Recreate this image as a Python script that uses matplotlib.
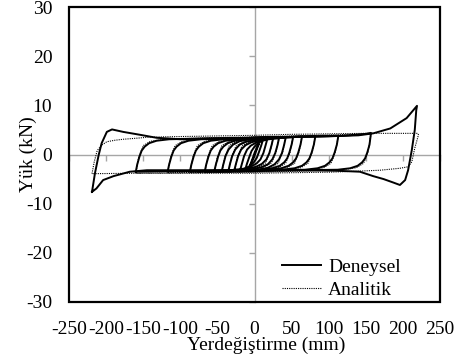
"""
plot.py

Hysteresis comparison: measured (Deneysel) vs model (Analitik) load-displacement
loops. Excel-like look: black frame, grey zero axes with their own tick marks,
tick labels sitting outside the frame.
"""

import matplotlib
matplotlib.use("Agg")
import matplotlib.pyplot as plt
from matplotlib.patches import Rectangle

plt.rcParams['font.family'] = ['Liberation Serif', 'DejaVu Serif']
plt.rcParams['axes.unicode_minus'] = False

# --- data (mm, kN) ----------------------------------------------------------

x_ticks = [-250, -200, -150, -100, -50, 0, 50, 100, 150, 200, 250]
y_ticks = [-30, -20, -10, 0, 10, 20, 30]

# Deneysel: outer cycle
den1_x = [-219, -215, -210, -206, -199, -192, -177, -154, -132, -100, -60, -20, 20, 60,
          100, 140, 160, 183, 205, 219, 218, 216, 212, 207, 203, 196, 187, 174, 160, 142,
          110, 60, 0, -60, -110, -145, -168, -190, -204, -213, -219]
den1_y = [-7.6, -3.8, -0.1, 2.3, 4.6, 5.1, 4.6, 4.0, 3.4, 3.1, 3.2, 3.3, 3.5, 3.6,
          3.7, 3.9, 4.3, 5.3, 7.4, 9.9, 9.0, 5.0, 0.9, -3.2, -5.2, -6.2, -5.7, -5.0, -4.4, -3.5,
          -3.3, -3.2, -3.2, -3.2, -3.2, -3.2, -3.5, -4.4, -5.2, -6.9, -7.6]

# Deneysel: inner cycles, largest to smallest
den2_x = [-160, -158, -155, -152, -148, -142, -132, -115, -60, 0, 60, 120, 150, 157,
          155, 152, 149, 145, 139, 129, 112, 60, 0, -60, -120, -160]
den2_y = [-3.5, -2.0, -0.4, 0.8, 1.6, 2.3, 2.8, 3.1, 3.3, 3.4, 3.6, 3.8, 4.2, 4.4,
          2.0, 0.4, -0.8, -1.6, -2.3, -2.8, -3.1, -3.2, -3.3, -3.3, -3.4, -3.5]

den3_x = [-117, -115, -112, -109, -105, -99, -89, -72, 0, 60, 113,
          111, 108, 105, 101, 95, 85, 68, 0, -60, -117]
den3_y = [-3.4, -2.0, -0.4, 0.8, 1.6, 2.3, 2.8, 3.1, 3.4, 3.6, 3.8,
          2.0, 0.4, -0.8, -1.6, -2.3, -2.8, -3.1, -3.3, -3.3, -3.4]

den4_x = [-87, -85, -82, -79, -75, -69, -59, -42, 0, 82, 80, 77, 74, 70, 64, 54, 37, 0, -87]
den4_y = [-3.4, -2.0, -0.4, 0.8, 1.6, 2.3, 2.8, 3.1, 3.4, 3.7,
          2.0, 0.4, -0.8, -1.6, -2.3, -2.8, -3.1, -3.3, -3.4]

den5_x = [-67, -65, -62, -59, -55, -49, -39, -22, 0, 64, 62, 59, 56, 52, 46, 36, 19, 0, -67]
den5_y = [-3.4, -2.0, -0.4, 0.8, 1.6, 2.3, 2.8, 3.1, 3.3, 3.6,
          2.0, 0.4, -0.8, -1.6, -2.3, -2.8, -3.1, -3.2, -3.4]

den6_x = [-54, -52, -49, -46, -42, -36, -26, -9, 52, 50, 47, 44, 40, 34, 24, 7, -54]
den6_y = [-3.3, -2.0, -0.4, 0.8, 1.6, 2.3, 2.8, 3.1, 3.5, 2.0, 0.4, -0.8, -1.6, -2.3, -2.8, -3.1, -3.3]

den7_x = [-44, -42, -39, -35, -29, -20, -7, 42, 40, 37, 33, 27, 18, 5, -44]
den7_y = [-3.3, -2.0, -0.3, 1.0, 2.0, 2.7, 3.1, 3.4, 2.0, 0.3, -1.0, -2.0, -2.7, -3.1, -3.3]

den8_x = [-35, -33, -30, -26, -20, -11, 2, 33, 31, 28, 24, 18, 9, -4, -35]
den8_y = [-3.2, -1.9, -0.3, 1.0, 2.0, 2.6, 3.0, 3.3, 1.9, 0.3, -1.0, -2.0, -2.6, -3.0, -3.2]

den9_x = [-27, -25, -22, -18, -12, -4, 8, 25, 23, 20, 16, 10, 2, -10, -27]
den9_y = [-3.1, -1.9, -0.3, 1.0, 1.9, 2.5, 2.9, 3.2, 1.9, 0.3, -1.0, -1.9, -2.5, -2.9, -3.1]

den10_x = [-19, -17, -14, -10, -5, 2, 10, 17, 15, 12, 8, 3, -4, -12, -19]
den10_y = [-3.0, -1.9, -0.3, 1.0, 1.8, 2.4, 2.8, 3.0, 1.9, 0.3, -1.0, -1.8, -2.4, -2.8, -3.0]

den11_x = [-12, -10, -7, -4, 0, 4, 8, 11, 9, 6, 3, -1, -5, -9, -12]
den11_y = [-2.8, -1.8, -0.5, 0.7, 1.6, 2.2, 2.6, 2.8, 1.8, 0.5, -0.7, -1.6, -2.2, -2.6, -2.8]

den12_x = [-6, -4, -2, 0, 2, 4, 6, 4, 2, 0, -2, -4, -6]
den12_y = [-2.2, -1.4, -0.6, 0.3, 1.0, 1.7, 2.2, 1.4, 0.6, -0.3, -1.0, -1.7, -2.2]

# Analitik: outer cycle
ana1_x = [-219, -216, -212, -206, -199, -188, -177, -160, -145, -120, -80, -40, 0, 50,
          100, 150, 220, 221, 216, 212, 207, 196, 169, 138, 100, 50, 0, -50, -100, -150, -219]
ana1_y = [-3.9, -1.5, 0.8, 1.9, 2.6, 2.9, 3.1, 3.3, 3.5, 3.6, 3.7, 3.8, 3.9, 4.1,
          4.2, 4.3, 4.3, 4.0, 1.3, -1.5, -2.5, -2.8, -3.2, -3.4, -3.6, -3.7, -3.8, -3.8, -3.8, -3.8, -3.9]

# Analitik: inner cycles
ana2_x = [-160, -156, -150, -140, -120, -60, 0, 80, 157, 153, 147, 137, 117, 60, 0, -80, -160]
ana2_y = [-3.8, -0.5, 1.8, 2.7, 3.1, 3.4, 3.6, 3.9, 4.2, 0.5, -1.8, -2.7, -3.1, -3.4, -3.6, -3.7, -3.8]

ana3_x = [-117, -113, -107, -97, -77, 0, 113, 109, 103, 93, 73, 0, -117]
ana3_y = [-3.7, -0.5, 1.8, 2.7, 3.1, 3.5, 3.8, 0.5, -1.8, -2.7, -3.1, -3.5, -3.7]

ana4_x = [-87, -83, -77, -67, -47, 0, 82, 78, 72, 62, 42, 0, -87]
ana4_y = [-3.7, -0.5, 1.8, 2.7, 3.1, 3.5, 3.8, 0.5, -1.8, -2.7, -3.1, -3.5, -3.7]

ana5_x = [-67, -63, -57, -47, -27, 0, 64, 60, 54, 44, 24, 0, -67]
ana5_y = [-3.7, -0.5, 1.8, 2.7, 3.1, 3.4, 3.7, 0.5, -1.8, -2.7, -3.1, -3.4, -3.7]

ana6_x = [-54, -50, -44, -34, -14, 52, 48, 42, 32, 12, -54]
ana6_y = [-3.6, -0.5, 1.8, 2.7, 3.1, 3.6, 0.5, -1.8, -2.7, -3.1, -3.6]

ana7_x = [-44, -40, -34, -24, -4, 42, 38, 32, 22, 2, -44]
ana7_y = [-3.6, -0.5, 1.8, 2.7, 3.1, 3.6, 0.5, -1.8, -2.7, -3.1, -3.6]

ana8_x = [-35, -31, -25, -15, 5, 33, 29, 23, 13, -7, -35]
ana8_y = [-3.5, -0.5, 1.7, 2.6, 3.1, 3.4, 0.5, -1.7, -2.6, -3.1, -3.5]

ana9_x = [-27, -23, -17, -7, 13, 25, 21, 15, 5, -15, -27]
ana9_y = [-3.4, -0.5, 1.7, 2.6, 3.1, 3.3, 0.5, -1.7, -2.6, -3.1, -3.4]

den_loops = [(den1_x, den1_y), (den2_x, den2_y), (den3_x, den3_y), (den4_x, den4_y),
             (den5_x, den5_y), (den6_x, den6_y), (den7_x, den7_y), (den8_x, den8_y),
             (den9_x, den9_y), (den10_x, den10_y), (den11_x, den11_y), (den12_x, den12_y)]
ana_loops = [(ana1_x, ana1_y), (ana2_x, ana2_y), (ana3_x, ana3_y), (ana4_x, ana4_y),
             (ana5_x, ana5_y), (ana6_x, ana6_y), (ana7_x, ana7_y), (ana8_x, ana8_y),
             (ana9_x, ana9_y)]

GREY = '#a6a6a6'

fig = plt.figure(figsize=(4.62, 3.56), dpi=100)
ax = fig.add_axes([69 / 462, 54 / 356, 371 / 462, 295 / 356])
ax.set_xlim(-250, 250)
ax.set_ylim(-30, 30)

# grey axes through the origin, ticks on them but no labels
for side in ('top', 'right'):
    ax.spines[side].set_visible(False)
for side in ('left', 'bottom'):
    ax.spines[side].set_position(('data', 0))
    ax.spines[side].set_color(GREY)
    ax.spines[side].set_linewidth(1.0)
ax.set_xticks(x_ticks)
ax.set_yticks(y_ticks)
ax.tick_params(direction='out', length=4, width=1.0, color=GREY,
               labelbottom=False, labelleft=False)

# black frame round the plot area
ax.add_patch(Rectangle((0, 0), 1, 1, transform=ax.transAxes, fill=False,
                       edgecolor='black', linewidth=1.6, clip_on=False, zorder=5))

# tick labels on the outside of the frame
secx = ax.secondary_xaxis('bottom')
secx.set_xticks(x_ticks)
secx.spines['bottom'].set_visible(False)
secx.tick_params(length=0, pad=14, labelsize=14)

secy = ax.secondary_yaxis('left')
secy.set_yticks(y_ticks)
secy.spines['left'].set_visible(False)
secy.tick_params(length=0, pad=12, labelsize=14)

ax.set_xlabel('Yerdeğiştirme (mm)', fontsize=14)
ax.xaxis.set_label_coords(0.531, -0.118)
ax.set_ylabel('Yük (kN)', fontsize=14)
ax.yaxis.set_label_coords(-0.085, 0.5)

# loops
for i, (xs, ys) in enumerate(den_loops):
    ax.plot(xs, ys, color='black', linewidth=1.4, solid_joinstyle='round',
            label='Deneysel' if i == 0 else None, zorder=3)
for i, (xs, ys) in enumerate(ana_loops):
    ax.plot(xs, ys, color='black', linewidth=0.8, linestyle=(0, (1, 1)),
            label='Analitik' if i == 0 else None, zorder=4)

ax.legend(loc='lower left', bbox_to_anchor=(0.575, 0.01), frameon=False,
          fontsize=14, handlelength=2.0, handletextpad=0.35, labelspacing=0.3,
          borderpad=0, borderaxespad=0)

fig.savefig('out.png', dpi=100)
